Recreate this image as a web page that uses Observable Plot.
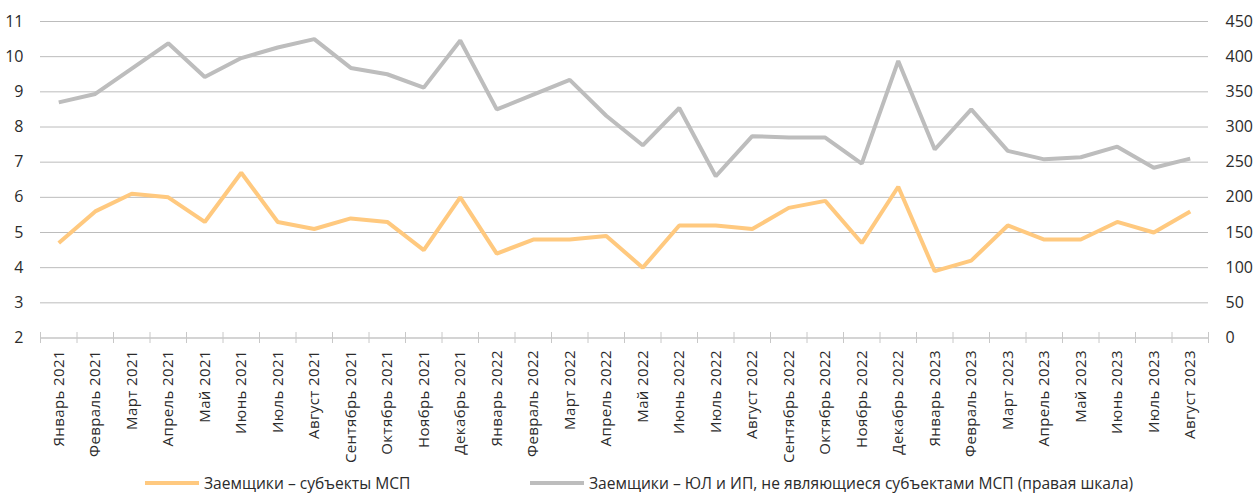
<!DOCTYPE html>
<html>
<head>
<meta charset="utf-8">
<script src="https://cdn.jsdelivr.net/npm/d3@7"></script>
<script src="https://cdn.jsdelivr.net/npm/@observablehq/plot@0.6"></script>
<style>
  html, body { margin: 0; padding: 0; background: #fff; }
  body { width: 1254px; height: 495px; overflow: hidden; font-family: "Open Sans", sans-serif; color: #2b2b2b; }
  #chart svg { overflow: visible; display: block; }
  #legend { position: relative; height: 25px; font-size: 15.6px; }
  .item { position: absolute; top: 2px; display: flex; align-items: center; white-space: nowrap; }
  .sw { width: 54px; height: 4px; margin-right: 5px; }
  .xlab text { letter-spacing: 0.4px; }
</style>
</head>
<body>
<div id="chart"></div>
<div id="legend"></div>
<script>
const months = [
  "Январь 2021","Февраль 2021","Март 2021","Апрель 2021","Май 2021","Июнь 2021","Июль 2021","Август 2021",
  "Сентябрь 2021","Октябрь 2021","Ноябрь 2021","Декабрь 2021",
  "Январь 2022","Февраль 2022","Март 2022","Апрель 2022","Май 2022","Июнь 2022","Июль 2022","Август 2022",
  "Сентябрь 2022","Октябрь 2022","Ноябрь 2022","Декабрь 2022",
  "Январь 2023","Февраль 2023","Март 2023","Апрель 2023","Май 2023","Июнь 2023","Июль 2023","Август 2023"
];
const smeValues = [4.7,5.6,6.1,6.0,5.3,6.7,5.3,5.1,5.4,5.3,4.5,6.0,
                   4.4,4.8,4.8,4.9,4.0,5.2,5.2,5.1,5.7,5.9,4.7,6.3,
                   3.9,4.2,5.2,4.8,4.8,5.3,5.0,5.6];
const nonSmeValues = [335,347,383,419,371,398,413,425,384,375,356,423,
                      325,346,367,316,274,327,230,287,285,285,248,394,
                      268,325,266,254,257,272,242,255];
const leftTicks = [2,3,4,5,6,7,8,9,10,11];
const rightTicks = [0,50,100,150,200,250,300,350,400,450];
const seriesNames = ["Заемщики – субъекты МСП", "Заемщики – ЮЛ и ИП, не являющиеся субъектами МСП (правая шкала)"];
const colors = ["#FFC97F", "#BDBDBD"];

// right scale maps onto left: 0 -> 2, 450 -> 11
const toLeft = v => 2 + v * (leftTicks[leftTicks.length-1] - leftTicks[0]) / rightTicks[rightTicks.length-1];

const idx = d3.range(months.length);
const bounds = d3.range(months.length + 1).map(i => i - 0.5);
const sme = idx.map(i => ({i, v: smeValues[i]}));
const non = idx.map(i => ({i, v: nonSmeValues[i]}));

const chart = Plot.plot({
  width: 1254,
  height: 470,
  marginLeft: 40,
  marginRight: 46,
  marginTop: 21,
  marginBottom: 132.5,
  style: {fontFamily: "Open Sans, sans-serif", fontSize: "16px", color: "#2b2b2b", background: "#fff"},
  x: {type: "linear", domain: [-0.5, months.length - 0.5]},
  y: {domain: [2, 11]},
  marks: [
    Plot.gridY(leftTicks.slice(1), {stroke: "#bcbcbc", strokeOpacity: 1, strokeWidth: 1}),
    Plot.ruleY([2], {stroke: "#d4d4d4", strokeWidth: 2}),
    Plot.ruleX(bounds, {x: d => d, y1: 2, y2: 2, insetTop: -5.5, insetBottom: -5.5, stroke: "#c8c8c8", strokeWidth: 1}),
    Plot.axisY(leftTicks, {anchor: "left", tickSize: 0, tickPadding: 17, fontSize: 16, label: null}),
    Plot.axisY(leftTicks, {anchor: "right", tickSize: 0, tickPadding: 17, fontSize: 16, label: null,
      tickFormat: d => rightTicks[leftTicks.indexOf(d)]}),
    Plot.axisX(idx, {anchor: "bottom", tickSize: 0, tickPadding: 12, tickRotate: -90, fontSize: 15, label: null,
      className: "xlab", tickFormat: i => months[i]}),
    Plot.line(non, {x: "i", y: d => toLeft(d.v), stroke: colors[1], strokeWidth: 4, strokeLinejoin: "miter", strokeLinecap: "butt"}),
    Plot.line(sme, {x: "i", y: "v", stroke: colors[0], strokeWidth: 4, strokeLinejoin: "miter", strokeLinecap: "butt"})
  ]
});
document.getElementById("chart").appendChild(chart);

const legend = document.getElementById("legend");
const lefts = [145, 530];
seriesNames.forEach((name, k) => {
  const item = document.createElement("div");
  item.className = "item";
  item.style.left = lefts[k] + "px";
  item.innerHTML = `<span class="sw" style="background:${colors[k]}"></span><span>${name}</span>`;
  legend.appendChild(item);
});
</script>
</body>
</html>
